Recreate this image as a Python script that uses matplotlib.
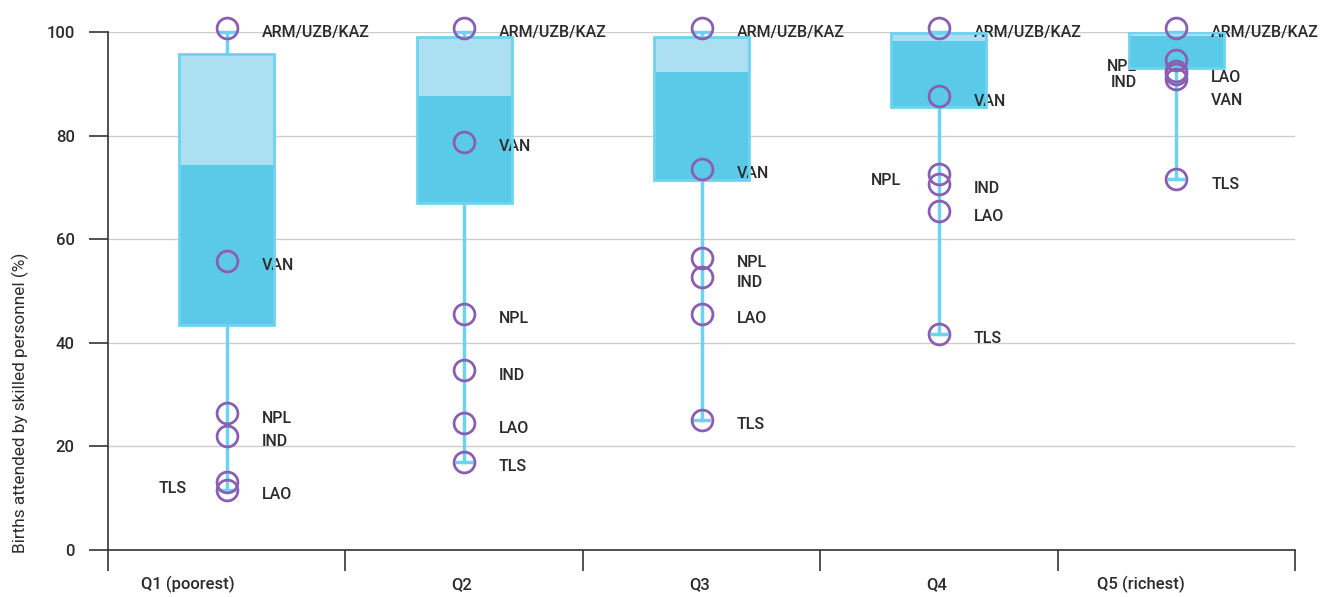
import matplotlib.pyplot as plt
from matplotlib.patches import Rectangle

plt.rcParams['font.family'] = ['Roboto', 'DejaVu Sans']

quintiles = ['Q1 (poorest)', 'Q2', 'Q3', 'Q4', 'Q5 (richest)']
box_low = [43.4, 67.0, 71.4, 85.5, 93.0]
box_med = [74.3, 87.6, 92.3, 98.2, 99.2]
box_high = [95.7, 99.0, 99.0, 99.8, 100.0]
whisk_low = [11.6, 17.0, 25.1, 41.7, 71.6]
whisk_high = [100.0, 100.0, 100.0, 100.0, 100.0]

countries = ['ARM/UZB/KAZ', 'VAN', 'NPL', 'IND', 'LAO', 'TLS']
values = {
    'ARM/UZB/KAZ': [100.8, 100.8, 100.8, 100.8, 100.8],
    'VAN': [55.8, 78.8, 73.6, 87.6, 91.0],
    'NPL': [26.4, 45.6, 56.4, 72.6, 94.6],
    'IND': [22.0, 34.7, 52.7, 70.7, 92.5],
    'LAO': [11.6, 24.5, 45.6, 65.4, 91.8],
    'TLS': [13.1, 17.0, 25.1, 41.7, 71.6],
}

# label placement tweaks (pixels): (quintile index, country) -> (dx, dy)
label_shift = {
    (0, 'TLS'): (-40, -6),
    (3, 'NPL'): (-38, -7),
    (4, 'NPL'): (-39, -7),
    (4, 'IND'): (-39, -12),
    (4, 'VAN'): (35, -22),
    (4, 'LAO'): (35, -3),
}

dark = '#5BCAE9'
light = '#ABDFF1'
edge = '#6DD3F0'
purple = '#8A5FB3'
txt = '#2b2b2b'

fig = plt.figure(figsize=(13.21, 5.97), dpi=100)
ax = fig.add_axes([108 / 1321, 47 / 597, (1295 - 108) / 1321, (550 - 32) / 597])

bw = 0.4
for i in range(len(quintiles)):
    ax.plot([i, i], [whisk_low[i], box_low[i]], color=edge, lw=2.5, zorder=2)
    ax.plot([i, i], [box_high[i], whisk_high[i]], color=edge, lw=2.5, zorder=2)
    for w in (whisk_low[i], whisk_high[i]):
        ax.plot([i - 0.03, i + 0.03], [w, w], color=edge, lw=2.5, zorder=2, clip_on=False)
    ax.add_patch(Rectangle((i - bw / 2, box_low[i]), bw, box_med[i] - box_low[i],
                           facecolor=dark, edgecolor='none', zorder=3))
    ax.add_patch(Rectangle((i - bw / 2, box_med[i]), bw, box_high[i] - box_med[i],
                           facecolor=light, edgecolor='none', zorder=3))
    ax.add_patch(Rectangle((i - bw / 2, box_low[i]), bw, box_high[i] - box_low[i],
                           facecolor='none', edgecolor=edge, lw=2, zorder=4))

for c in countries:
    for i, v in enumerate(values[c]):
        ax.plot(i, v, 'o', ms=15, mfc='none', mec=purple, mew=2, zorder=5, clip_on=False)
        dx, dy = label_shift.get((i, c), (35, -5))
        ha = 'right' if dx < 0 else 'left'
        ax.annotate(c, (i, v), xytext=(dx, dy), textcoords='offset pixels',
                    ha=ha, va='center', fontsize=11.5, fontweight='medium', color=txt,
                    annotation_clip=False)

ax.set_xlim(-0.5, 4.5)
ax.set_ylim(0, 100)
ax.set_yticks([0, 20, 40, 60, 80, 100])
ax.tick_params(axis='y', length=14, width=1.2, color='#333333', labelsize=12,
               labelcolor=txt, pad=10)
for lbl in ax.get_yticklabels():
    lbl.set_fontweight('medium')
ax.set_xticks([-0.5, 0.5, 1.5, 2.5, 3.5, 4.5])
ax.set_xticklabels([])
ax.tick_params(axis='x', length=15, width=1.2, color='#333333')
for i, q in enumerate(quintiles):
    ax.text(i + 0.034, -6.6, q, ha='right', va='center', fontsize=12, fontweight='medium',
            color=txt, transform=ax.transData)

ax.grid(axis='y', color='#cccccc', lw=1)
ax.set_axisbelow(True)
for s in ['top', 'right']:
    ax.spines[s].set_visible(False)
for s in ['left', 'bottom']:
    ax.spines[s].set_color('#333333')
    ax.spines[s].set_linewidth(1.2)

fig.text(20 / 1321, 1 - 553 / 597, 'Births attended by skilled personnel (%)', rotation=90,
         ha='center', va='bottom', fontsize=12.4, color=txt)

fig.savefig('out.png', dpi=100)
